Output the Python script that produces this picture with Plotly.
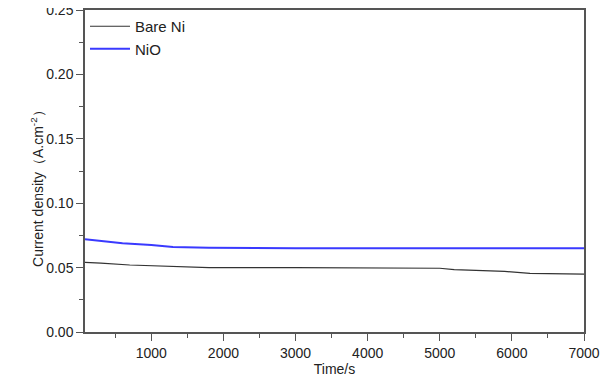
import plotly.graph_objects as go

bare_t = [80, 300, 700, 1300, 1800, 3000, 4000, 5000, 5200, 5900, 6250, 7000]
bare_j = [0.054, 0.0535, 0.052, 0.051, 0.050, 0.050, 0.0495, 0.0495, 0.0485, 0.047, 0.0455, 0.045]
nio_t = [80, 300, 600, 1000, 1300, 1800, 2500, 3000, 4000, 5000, 6000, 7000]
nio_j = [0.072, 0.0705, 0.069, 0.0675, 0.066, 0.0655, 0.065, 0.065, 0.065, 0.065, 0.065, 0.065]
x_ticks = [1000, 2000, 3000, 4000, 5000, 6000, 7000]
y_ticks = [0.00, 0.05, 0.10, 0.15, 0.20, 0.25]

FONT = "Liberation Sans"
fig = go.Figure()
fig.add_trace(go.Scatter(x=bare_t, y=bare_j, mode="lines", name="Bare Ni",
                         line=dict(color="#333333", width=1.2)))
fig.add_trace(go.Scatter(x=nio_t, y=nio_j, mode="lines", name="NiO",
                         line=dict(color="#3a3aff", width=2)))

axis_common = dict(showline=True, linecolor="#555555", linewidth=1.5, mirror=True,
                   ticks="outside", ticklen=7, tickcolor="#555555", showgrid=False,
                   zeroline=False, automargin=False, ticklabeloverflow="allow",
                   tickfont=dict(family=FONT, size=14, color="#222"))
fig.update_xaxes(range=[80, 7000], tickvals=x_ticks,
                 minor=dict(dtick=500, tick0=0, ticks="outside", ticklen=4, tickcolor="#555555"),
                 title=dict(text="Time/s", font=dict(family=FONT, size=14, color="#222"), standoff=6),
                 **axis_common)
fig.update_yaxes(range=[0, 0.25], tickvals=y_ticks, tickformat=".2f",
                 minor=dict(dtick=0.025, tick0=0, ticks="outside", ticklen=4, tickcolor="#555555"),
                 **axis_common)
fig.add_annotation(text="Current density（A.cm<sup>-2</sup>）", textangle=-90,
                   xref="paper", yref="paper", x=-0.118, y=0.457, showarrow=False,
                   font=dict(family=FONT, size=14, color="#222"))
fig.update_layout(width=602, height=369, margin=dict(l=77, r=26, t=2, b=45, autoexpand=False),
                  plot_bgcolor="white", paper_bgcolor="white",
                  legend=dict(x=0.0, y=1.0, xanchor="left", yanchor="top", itemwidth=40,
                              bgcolor="rgba(0,0,0,0)", tracegroupgap=0,
                              font=dict(family=FONT, size=15, color="#222")),
                  showlegend=True)
fig.write_html("out.html")
